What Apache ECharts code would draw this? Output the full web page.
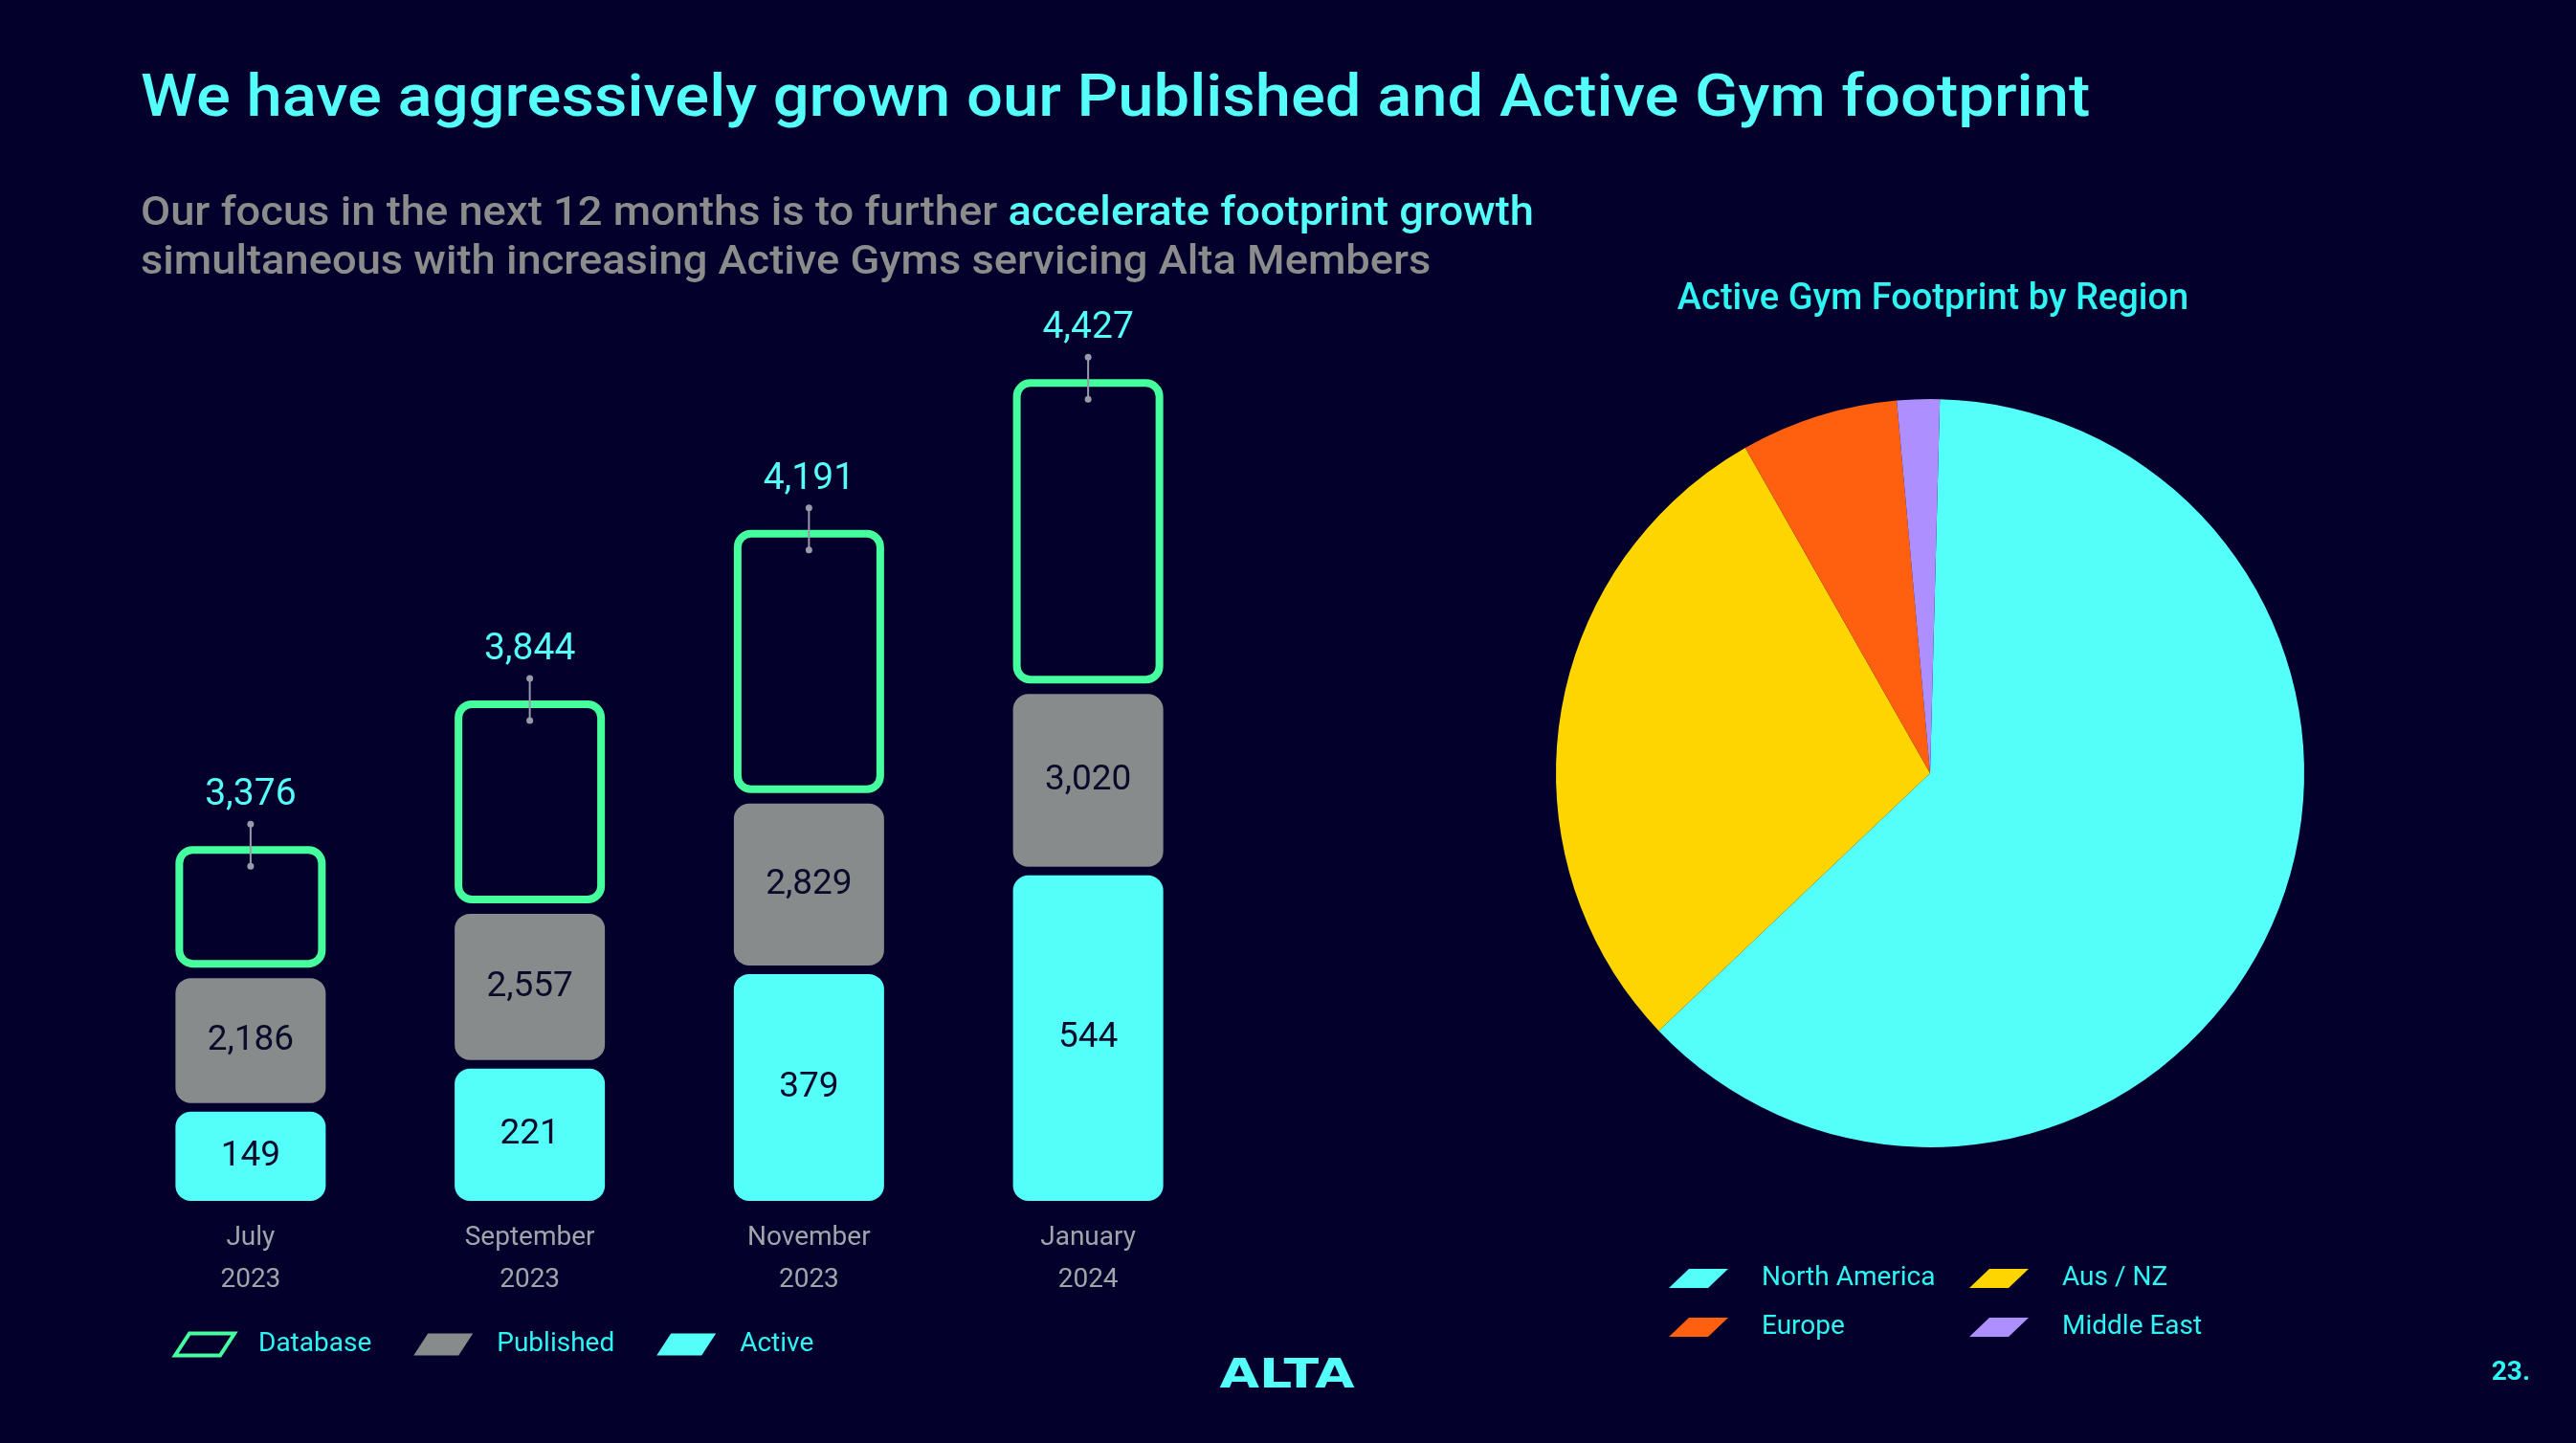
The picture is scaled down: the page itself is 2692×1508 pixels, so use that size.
<!DOCTYPE html>
<html>
<head>
<meta charset="utf-8">
<script src="https://cdn.jsdelivr.net/npm/echarts@6/dist/echarts.min.js"></script>
<style>
  html, body { margin: 0; padding: 0; background: #03002B; }
  #chart { width: 2692px; height: 1508px; }
</style>
</head>
<body>
<div id="chart"></div>
<script>
// ---- data ----
const months = ['July\n2023', 'September\n2023', 'November\n2023', 'January\n2024'];
const activeGyms = [149, 221, 379, 544];
const publishedGyms = [2186, 2557, 2829, 3020];
const databaseGyms = [3376, 3844, 4191, 4427];
const regions = ['North America', 'Aus / NZ', 'Europe', 'Middle East'];
const regionActiveGyms = [340, 157, 37, 10];

// ---- styles ----
const BG = '#03002B';
const CYAN = '#55FFF9';
const GREEN = '#45FF9E';
const GRAY = '#878B8B';
const DARK = '#0A0A2A';
const LEG_CYAN = '#2EF5F2';
const FONT = 'Roboto, "Noto Sans", sans-serif';
const regionColors = ['#55FFF9', '#FFD500', '#FF6010', '#AE8FFF'];
const BW = 157;
const GAP1 = 9;
const GAP2 = 11;

const fmt = v => v.toLocaleString('en-US');
const chart = echarts.init(document.getElementById('chart'));

function gridBottom(params) { return params.coordSys.y + params.coordSys.height; }
function activeTop(i) { return chart.convertToPixel({ yAxisIndex: 0 }, activeGyms[i]); }
function publishedHeight(i, gb) { return gb - chart.convertToPixel({ yAxisIndex: 1 }, publishedGyms[i]); }

const barIcon = 'path://M15,0 L62,0 L47,23 L0,23 Z';
const pieIcon = 'path://M21,0 L62,0 L41,20 L0,20 Z';

const option = {
  backgroundColor: BG,
  animation: false,
  grid: { left: 116, width: 1167, top: 343, bottom: 253 },
  xAxis: {
    type: 'category', data: months,
    axisLine: { show: false }, axisTick: { show: false }, splitLine: { show: false },
    axisLabel: { color: '#A3A3AB', fontSize: 28, lineHeight: 44, margin: 17, fontFamily: FONT }
  },
  yAxis: [
    { type: 'value', min: 0, max: 1458, show: false },
    { type: 'value', min: 0, max: 15259, show: false },
    { type: 'value', min: 2677, max: 7698, show: false }
  ],
  legend: [
    {
      left: 176, top: 1386, itemWidth: 62, itemHeight: 23, itemGap: 44, selectedMode: false,
      textStyle: { color: LEG_CYAN, fontSize: 28, fontFamily: FONT, padding: [0, 0, 0, 20] },
      data: [
        { name: 'Database', icon: barIcon, itemStyle: { color: 'rgba(0,0,0,0)', borderColor: GREEN, borderWidth: 4 } },
        { name: 'Published', icon: barIcon, itemStyle: { color: GRAY } },
        { name: 'Active', icon: barIcon, itemStyle: { color: CYAN } }
      ]
    },
    {
      left: 1739, top: 1317, orient: 'vertical', itemWidth: 62, itemHeight: 20, itemGap: 23, selectedMode: false,
      textStyle: { color: LEG_CYAN, fontSize: 28, lineHeight: 28, fontFamily: FONT, padding: [0, 0, 0, 30] },
      data: [
        { name: regions[0], icon: pieIcon },
        { name: regions[2], icon: pieIcon }
      ]
    },
    {
      left: 2053, top: 1317, orient: 'vertical', itemWidth: 62, itemHeight: 20, itemGap: 23, selectedMode: false,
      textStyle: { color: LEG_CYAN, fontSize: 28, lineHeight: 28, fontFamily: FONT, padding: [0, 0, 0, 30] },
      data: [
        { name: regions[1], icon: pieIcon },
        { name: regions[3], icon: pieIcon }
      ]
    }
  ],
  series: [
    {
      type: 'custom', name: 'Active', yAxisIndex: 0, itemStyle: { color: CYAN },
      data: activeGyms.map((v, i) => [i, v]),
      renderItem(params, api) {
        const i = api.value(0), v = api.value(1);
        const b = api.coord([i, 0]), t = api.coord([i, v]);
        return {
          type: 'rect',
          shape: { x: b[0] - BW / 2, y: t[1], width: BW, height: b[1] - t[1], r: 16 },
          style: { fill: CYAN },
          textContent: { style: { text: fmt(v), fill: DARK, fontSize: 37, fontFamily: FONT } },
          textConfig: { position: 'inside' }
        };
      }
    },
    {
      type: 'custom', name: 'Published', yAxisIndex: 1, itemStyle: { color: GRAY },
      data: publishedGyms.map((v, i) => [i, v]),
      renderItem(params, api) {
        const i = api.value(0), v = api.value(1);
        const gb = gridBottom(params);
        const x = api.coord([i, v])[0];
        const h = gb - api.coord([i, v])[1];
        const bottom = activeTop(i) - GAP1;
        return {
          type: 'rect',
          shape: { x: x - BW / 2, y: bottom - h, width: BW, height: h, r: 16 },
          style: { fill: GRAY },
          textContent: { style: { text: fmt(v), fill: DARK, fontSize: 37, fontFamily: FONT } },
          textConfig: { position: 'inside' }
        };
      }
    },
    {
      type: 'custom', name: 'Database', yAxisIndex: 2, itemStyle: { color: GREEN },
      data: databaseGyms.map((v, i) => [i, v]),
      renderItem(params, api) {
        const i = api.value(0), v = api.value(1);
        const gb = gridBottom(params);
        const x = api.coord([i, v])[0];
        const h = gb - api.coord([i, v])[1];
        const pubTop = activeTop(i) - GAP1 - publishedHeight(i, gb);
        const bottom = pubTop - GAP2;
        const top = bottom - h;
        const lw = 8;
        return {
          type: 'group',
          children: [
            {
              type: 'rect',
              shape: { x: x - BW / 2 + lw / 2, y: top + lw / 2, width: BW - lw, height: h - lw, r: 14 },
              style: { fill: 'none', stroke: GREEN, lineWidth: lw }
            },
            {
              type: 'line',
              shape: { x1: x, y1: top - 23, x2: x, y2: top + 21 },
              style: { stroke: '#9999AA', lineWidth: 2 }
            },
            { type: 'circle', shape: { cx: x, cy: top - 23, r: 3.5 }, style: { fill: '#9999AA' } },
            { type: 'circle', shape: { cx: x, cy: top + 21, r: 3.5 }, style: { fill: '#9999AA' } },
            {
              type: 'text',
              style: {
                x: x, y: top - 53, text: fmt(v), fill: CYAN, fontSize: 39, fontFamily: FONT,
                align: 'center', verticalAlign: 'middle'
              }
            }
          ]
        };
      }
    },
    {
      type: 'pie', name: 'Region', center: [2017, 808], radius: 391,
      startAngle: 88.5, clockwise: true,
      label: { show: false }, labelLine: { show: false },
      emphasis: { disabled: true },
      data: regions.map((r, i) => ({ name: r, value: regionActiveGyms[i], itemStyle: { color: regionColors[i] } }))
    }
  ],
  graphic: [
    {
      type: 'text', x: 147, y: 105, scaleX: 1.08,
      style: {
        text: 'We have aggressively grown our Published and Active Gym footprint',
        fill: CYAN, fontSize: 62, fontWeight: 500, fontFamily: FONT,
        align: 'left', verticalAlign: 'middle'
      }
    },
    {
      type: 'text', x: 147, y: 224, scaleX: 1.078,
      style: {
        text: '{g|Our focus in the next 12 months is to further }{c|accelerate footprint growth}',
        align: 'left', verticalAlign: 'middle',
        rich: {
          g: { fill: '#8C8C8C', fontSize: 42, fontWeight: 500, fontFamily: FONT },
          c: { fill: CYAN, fontSize: 42, fontWeight: 500, fontFamily: FONT }
        }
      }
    },
    {
      type: 'text', x: 147, y: 275, scaleX: 1.078,
      style: {
        text: 'simultaneous with increasing Active Gyms servicing Alta Members',
        fill: '#8C8C8C', fontSize: 42, fontWeight: 500, fontFamily: FONT,
        align: 'left', verticalAlign: 'middle'
      }
    },
    {
      type: 'text', x: 2020, y: 313,
      style: {
        text: 'Active Gym Footprint by Region', fill: LEG_CYAN, fontSize: 38, fontWeight: 500,
        fontFamily: FONT, align: 'center', verticalAlign: 'middle'
      }
    },
    {
      type: 'text', x: 1345, y: 1439, scaleX: 1.25,
      style: {
        text: 'ALTA', fill: CYAN, fontSize: 43, fontWeight: 'bold',
        fontFamily: '"DejaVu Sans", sans-serif', align: 'center', verticalAlign: 'middle'
      }
    },
    {
      type: 'text', x: 2644, y: 1435,
      style: {
        text: '23.', fill: LEG_CYAN, fontSize: 28, fontWeight: 700, fontFamily: FONT,
        align: 'right', verticalAlign: 'middle'
      }
    }
  ]
};
chart.setOption(option);
</script>
</body>
</html>
